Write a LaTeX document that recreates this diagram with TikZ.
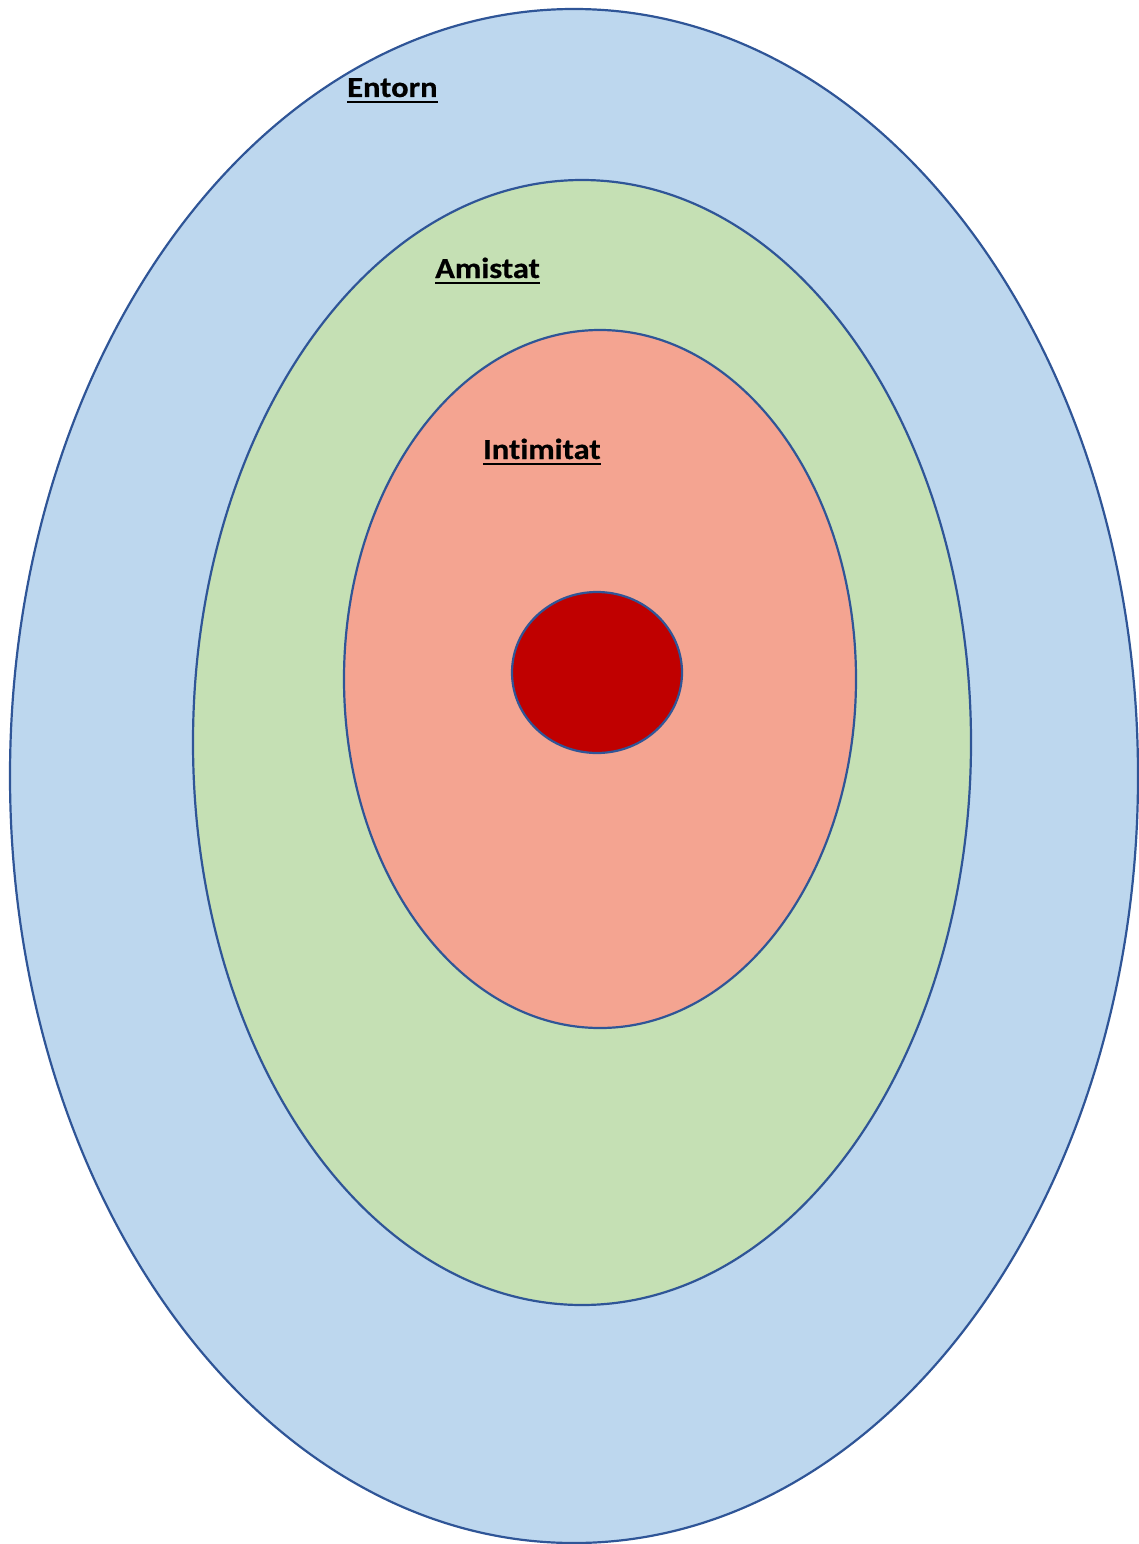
\documentclass[tikz,border=0pt]{standalone}
\usepackage{fontspec}
\setmainfont{Carlito}
\newfontfamily\lblfont[FakeStretch=1.12, Ligatures={NoCommon}, FakeBold=0.6]{Carlito}
\definecolor{ringblue}{HTML}{BDD7EE}
\definecolor{ringgreen}{HTML}{C5E0B4}
\definecolor{ringpink}{HTML}{F4A491}
\definecolor{corered}{HTML}{C00000}
\definecolor{edgeblue}{HTML}{2F5597}
\tikzset{
  ring/.style={draw=edgeblue, line width=2.2pt},
  lbl/.style={anchor=base west, inner sep=0pt, font=\lblfont\fontsize{29}{33}\selectfont\bfseries},
  uline/.style={line width=2.2pt, black}
}
\begin{document}
\begin{tikzpicture}[x=1pt,y=-1pt]
\useasboundingbox (0,0) rectangle (1139,1544);
\fill[white] (0,0) rectangle (1139,1544);
\draw[ring, fill=ringblue] (574,776) ellipse [x radius=564, y radius=767];
\draw[ring, fill=ringgreen] (582,742.5) ellipse [x radius=389, y radius=562.5];
\draw[ring, fill=ringpink] (600,679) ellipse [x radius=256, y radius=349];
\draw[ring, fill=corered] (597,672.5) ellipse [x radius=85, y radius=80.5];
\node[lbl] (entorn) at (347,97) {Entorn};
\node[lbl] (amistat) at (435,278) {Amistat};
\node[lbl] (intim) at (483,459) {Intimitat};
\foreach \n in {entorn,amistat,intim}{
  \draw[uline] ([yshift=-5pt]\n.base west) -- ([yshift=-5pt]\n.base east);
}
\end{tikzpicture}
\end{document}
